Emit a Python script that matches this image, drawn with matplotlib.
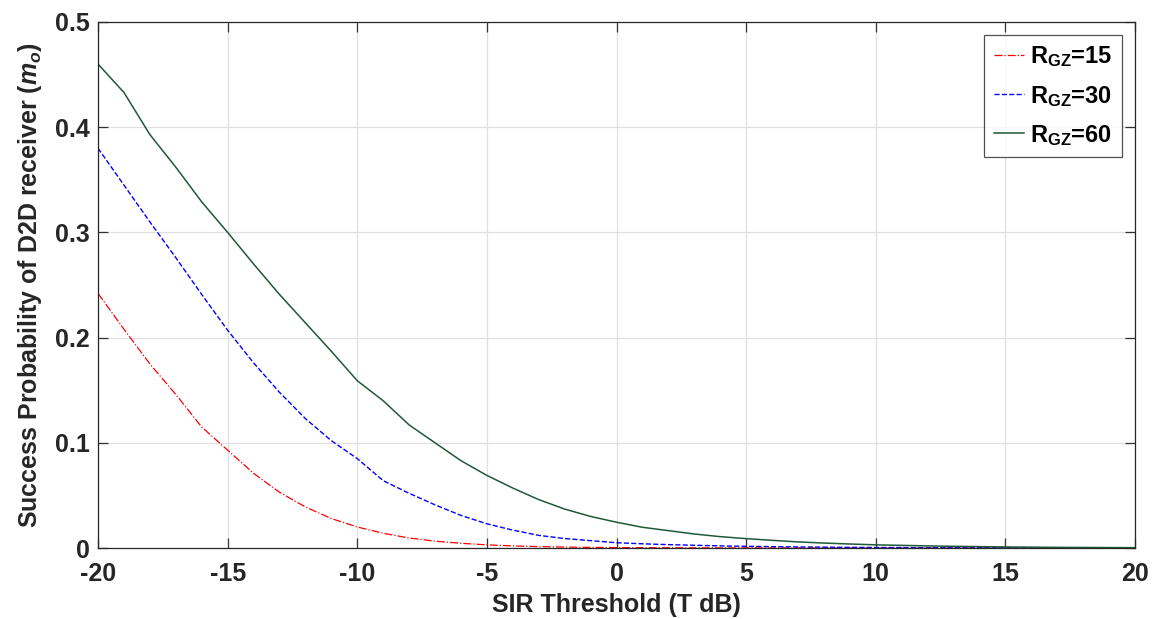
import numpy as np
import matplotlib
matplotlib.use("Agg")
import matplotlib.pyplot as plt

# SIR threshold (dB) and success probability for each guard-zone radius
sir_db = list(range(-20, 21))

p_rgz15 = [0.242, 0.208, 0.175, 0.146, 0.115, 0.093, 0.071, 0.053, 0.039, 0.028,
           0.020, 0.014, 0.0095, 0.0065, 0.0045, 0.003, 0.002, 0.0013, 0.0009, 0.0006,
           0.0004, 0.0003, 0.0002, 0.00015, 0.0001, 0.00008, 0.00006, 0.00005, 0.00004, 0.00003,
           0.00002, 0.00002, 0.00001, 0.00001, 0.00001, 0.0, 0.0, 0.0, 0.0, 0.0, 0.0]
p_rgz30 = [0.380, 0.345, 0.310, 0.276, 0.241, 0.207, 0.176, 0.148, 0.123, 0.102,
           0.085, 0.064, 0.052, 0.041, 0.031, 0.023, 0.017, 0.012, 0.009, 0.007,
           0.005, 0.004, 0.0032, 0.0026, 0.002, 0.0016, 0.0013, 0.001, 0.0008, 0.0006,
           0.0005, 0.0004, 0.0003, 0.00025, 0.0002, 0.00015, 0.00012, 0.0001, 0.00008, 0.00006, 0.00005]
p_rgz60 = [0.460, 0.433, 0.393, 0.362, 0.329, 0.300, 0.270, 0.241, 0.214, 0.187,
           0.159, 0.140, 0.117, 0.100, 0.083, 0.069, 0.057, 0.046, 0.037, 0.030,
           0.0245, 0.0197, 0.0165, 0.0133, 0.0108, 0.0089, 0.0073, 0.0058, 0.0047, 0.0038,
           0.0030, 0.0025, 0.0020, 0.0016, 0.0013, 0.0010, 0.0008, 0.0006, 0.0005, 0.0004, 0.0003]

labels = [r'$\mathbf{R_{GZ}}$=15', r'$\mathbf{R_{GZ}}$=30', r'$\mathbf{R_{GZ}}$=60']

plt.rcParams['font.family'] = ['Liberation Sans', 'DejaVu Sans']
plt.rcParams['font.weight'] = 'bold'
plt.rcParams['axes.unicode_minus'] = False
plt.rcParams['mathtext.fontset'] = 'custom'
plt.rcParams['mathtext.rm'] = 'Liberation Sans:bold'
plt.rcParams['mathtext.bf'] = 'Liberation Sans:bold'
plt.rcParams['mathtext.it'] = 'Liberation Sans:bold:italic'

fig = plt.figure(figsize=(11.53, 6.19), dpi=100)
ax = fig.add_axes([0.085, 0.1147, 0.8994, 0.8498])

ax.plot(sir_db, p_rgz15, color='red', linestyle='-.', linewidth=0.9, label=labels[0])
ax.plot(sir_db, p_rgz30, color='blue', linestyle='--', linewidth=1.0, label=labels[1])
ax.plot(sir_db, p_rgz60, color='#1e5a38', linestyle='-', linewidth=1.1, label=labels[2])

ax.set_xlim(-20, 20)
ax.set_ylim(0, 0.5)
ax.set_xticks(np.arange(-20, 21, 5))
ax.set_yticks([0, 0.1, 0.2, 0.3, 0.4, 0.5])
ax.set_yticklabels(['0', '0.1', '0.2', '0.3', '0.4', '0.5'])
ax.grid(True, color='#e0e0e0', linewidth=0.9)
ax.set_axisbelow(True)
ax.tick_params(direction='in', top=True, right=True, labelsize=18, length=7, width=0.9,
               color='#333333')
ax.tick_params(axis='x', pad=10)
ax.tick_params(axis='y', pad=6)
for lab in ax.get_xticklabels() + ax.get_yticklabels():
    lab.set_fontweight('bold')
    lab.set_color('#262626')
for s in ax.spines.values():
    s.set_linewidth(0.9)
    s.set_color('#262626')

ax.set_xlabel('SIR Threshold (T dB)', fontsize=18, fontweight='bold', labelpad=5, color='#262626')
ax.set_ylabel(r'Success Probability of D2D receiver ($m_o$)', fontsize=18, fontweight='bold',
              labelpad=8, color='#262626')

leg = ax.legend(loc='upper right', fontsize=17, frameon=True, fancybox=False,
                edgecolor='#262626', handlelength=1.3, handletextpad=0.25, borderpad=0.4,
                borderaxespad=0.0, labelspacing=0.6, bbox_to_anchor=(0.9875, 0.975))
leg.get_frame().set_linewidth(0.9)

fig.savefig('out.png', dpi=100)
